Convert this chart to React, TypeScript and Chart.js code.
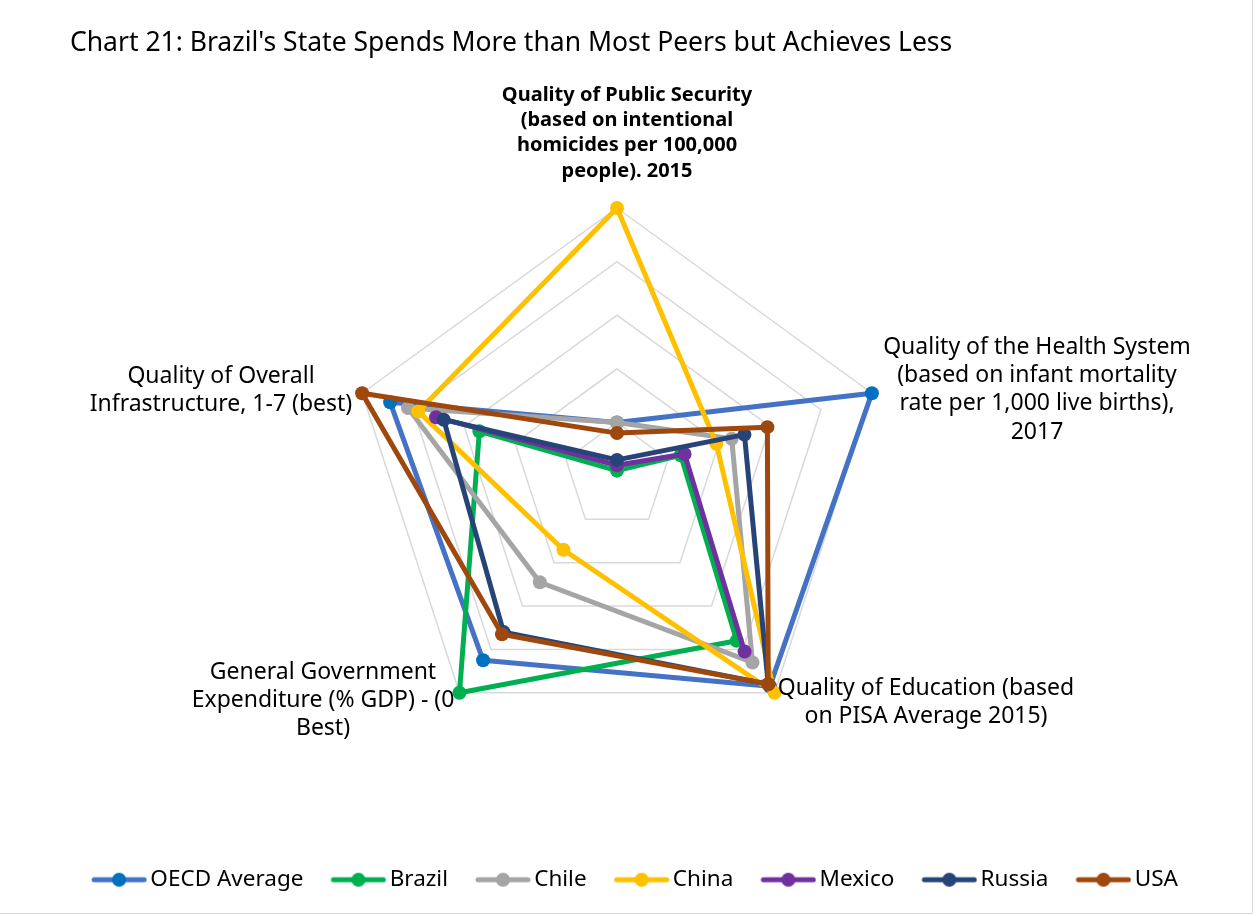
import React, { useEffect, useRef } from "react";
import { Chart, registerables } from "chart.js";

Chart.register(...registerables);

// ---------- DATA ----------
const chartTitle = "Chart 21: Brazil's State Spends More than Most Peers but Achieves Less";

const axisCategories = [
  ["Quality of Public Security", "(based on intentional", "homicides per 100,000", "people). 2015"],
  ["Quality of the Health System", "(based on infant mortality", "rate per 1,000 live births),", "2017"],
  ["Quality of Education (based", "on PISA Average 2015)"],
  ["General Government", "Expenditure (% GDP) - (0", "Best)"],
  ["Quality of Overall", "Infrastructure, 1-7 (best)"],
];

const seriesNames = ["OECD Average", "Brazil", "Chile", "China", "Mexico", "Russia", "USA"];

const oecdValues = [0.2, 1.0, 0.97, 0.85, 0.89];
const brazilValues = [0.02, 0.25, 0.76, 1.0, 0.54];
const chileValues = [0.2, 0.45, 0.86, 0.49, 0.82];
const chinaValues = [1.0, 0.39, 1.0, 0.34, 0.78];
const mexicoValues = [0.04, 0.265, 0.81, null, 0.71];
const russiaValues = [0.06, 0.5, 0.96, 0.72, 0.68];
const usaValues = [0.16, 0.59, 0.96, 0.73, 1.0];

const seriesValues = [oecdValues, brazilValues, chileValues, chinaValues, mexicoValues, russiaValues, usaValues];

const scaleTicks = [0, 0.2, 0.4, 0.6, 0.8, 1.0];

// ---------- STYLE ----------
const lineColors = ["#4472C4", "#00B050", "#A5A5A5", "#FFC000", "#7030A0", "#264478", "#9E480E"];
const markerColors = ["#0070C0", "#00B050", "#A5A5A5", "#FFC000", "#7030A0", "#264478", "#9E480E"];

const FONT = "'Noto Sans', sans-serif";
const LEGEND_FONT_SIZE = 22.5;
const ICON_LEN = 56;
const ICON_BOX = 48;

// label placement (centre x, first line centre y, line height, size, weight)
const labelLayout = [
  { x: 627, y: 95, lh: 25.3, size: 20, weight: "bold" },
  { x: 1037, y: 347, lh: 28.4, size: 23, weight: "normal" },
  { x: 926, y: 688, lh: 28.4, size: 23, weight: "normal" },
  { x: 323, y: 672, lh: 28, size: 23, weight: "normal" },
  { x: 221, y: 376, lh: 28, size: 23, weight: "normal" },
];

function makeLegendIcon(line: string, marker: string) {
  // canvas is centred on the legend box centre; drawn part starts at box start
  const off = 2 * (ICON_LEN - ICON_BOX / 2) - ICON_LEN;
  const c = document.createElement("canvas");
  c.width = 2 * (ICON_LEN - ICON_BOX / 2);
  c.height = 16;
  const g = c.getContext("2d")!;
  g.strokeStyle = line;
  g.lineWidth = 5;
  g.lineCap = "round";
  g.beginPath();
  g.moveTo(off + 3, 8);
  g.lineTo(off + ICON_LEN - 3, 8);
  g.stroke();
  g.fillStyle = marker;
  g.beginPath();
  g.arc(off + ICON_LEN / 2, 8, 7, 0, Math.PI * 2);
  g.fill();
  return c;
}

const textPlugin = {
  id: "textPlugin",
  afterDraw(chart: any) {
    const ctx = chart.ctx;
    ctx.save();
    ctx.fillStyle = "#000";
    // title
    ctx.textAlign = "left";
    ctx.textBaseline = "alphabetic";
    ctx.font = `normal 26.5px ${FONT}`;
    ctx.fillText(chartTitle, 70, 51);
    // axis labels
    ctx.textAlign = "center";
    ctx.textBaseline = "middle";
    axisCategories.forEach((lines, i) => {
      const l = labelLayout[i];
      ctx.font = `${l.weight} ${l.size}px ${FONT}`;
      lines.forEach((t, j) => ctx.fillText(t, l.x, l.y + j * l.lh));
    });
    // chart frame
    ctx.strokeStyle = "#D9D9D9";
    ctx.lineWidth = 1;
    ctx.beginPath();
    ctx.moveTo(1252.5, 0);
    ctx.lineTo(1252.5, 913.5);
    ctx.lineTo(0, 913.5);
    ctx.stroke();
    ctx.restore();
  },
};

export default function App() {
  const ref = useRef<HTMLCanvasElement | null>(null);

  useEffect(() => {
    const canvas = ref.current!;
    const icons = seriesNames.map((_, i) => makeLegendIcon(lineColors[i], markerColors[i]));
    const chart = new Chart(canvas, {
      type: "radar",
      data: {
        labels: axisCategories.map((l) => l.join(" ")),
        datasets: seriesNames.map((name, i) => ({
          label: name,
          data: seriesValues[i],
          borderColor: lineColors[i],
          backgroundColor: lineColors[i],
          borderWidth: 5,
          borderJoinStyle: "round" as const,
          fill: false,
          spanGaps: false,
          pointRadius: 7,
          pointHoverRadius: 7,
          pointBorderWidth: 0,
          pointBackgroundColor: markerColors[i],
          pointBorderColor: markerColors[i],
          order: seriesNames.length - i,
        })),
      },
      options: {
        responsive: false,
        animation: false,
        layout: { padding: { left: 11, right: 0, top: 60, bottom: 15 } },
        plugins: {
          title: { display: false },
          legend: {
            display: true,
            position: "bottom",
            labels: {
              color: "#000",
              font: { family: FONT, size: LEGEND_FONT_SIZE },
              usePointStyle: true,
              pointStyleWidth: ICON_BOX,
              padding: 27,
              generateLabels: () =>
                seriesNames.map((name, i) => ({
                  text: name,
                  fillStyle: markerColors[i],
                  strokeStyle: lineColors[i],
                  lineWidth: 0,
                  pointStyle: icons[i],
                  hidden: false,
                  datasetIndex: i,
                  fontColor: "#000",
                })),
            },
          },
          tooltip: { enabled: false },
        },
        scales: {
          r: {
            min: scaleTicks[0],
            max: scaleTicks[scaleTicks.length - 1],
            ticks: { display: false, stepSize: 0.2 },
            grid: { color: "#D9D9D9", lineWidth: 1.5, circular: false },
            angleLines: { display: false },
            pointLabels: { display: false },
            afterFit: (s: any) => {
              s.xCenter = 617;
              s.yCenter = 476;
              s.drawingArea = 268;
            },
          } as any,
        },
      },
      plugins: [textPlugin],
    });
    return () => chart.destroy();
  }, []);

  return (
    <div style={{ position: "absolute", left: 0, top: 0, width: 1258, height: 916, background: "#fff" }}>
      <canvas ref={ref} width={1258} height={916} style={{ display: "block" }} />
    </div>
  );
}
